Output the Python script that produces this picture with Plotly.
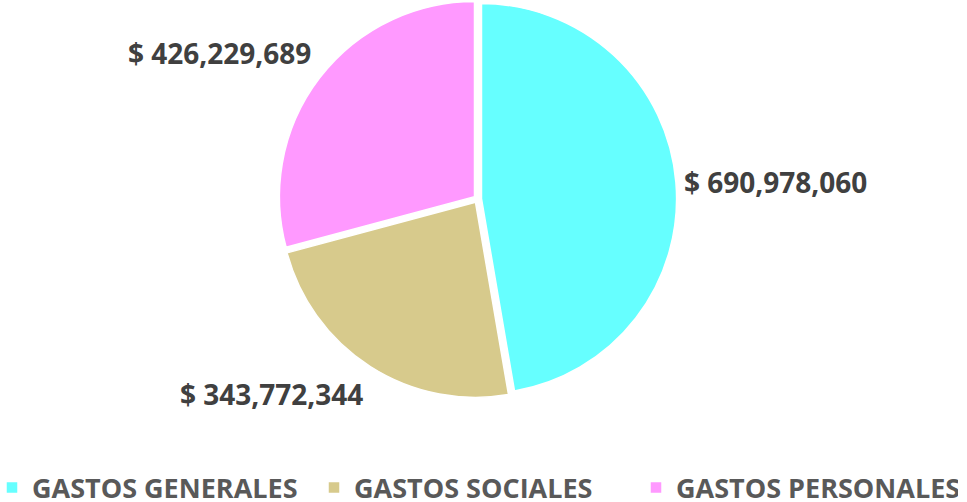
import plotly.graph_objects as go

categories = ["GASTOS GENERALES", "GASTOS SOCIALES", "GASTOS PERSONALES"]
values = [690978060, 343772344, 426229689]
colors = ["#66FFFF", "#D7CA8C", "#FF99FF"]

W, H = 967, 502
MB = 44                 # bottom margin reserved for the legend
PH = H - MB             # plot-area height

# value-label centres, in pixels from the top-left corner
label_px = [(775.5, 182), (271, 393.5), (219.5, 53)]

fig = go.Figure()
fig.add_trace(go.Pie(
    labels=categories,
    values=values,
    marker=dict(colors=colors, line=dict(color="white", width=1.5)),
    sort=False,
    direction="clockwise",
    rotation=0,
    pull=[0.02, 0.02, 0.02],
    textinfo="none",
    hoverinfo="label+value",
    domain=dict(x=[278.6 / W, 676.6 / W], y=[(PH - 398) / PH, 1.0]),
))

for v, (px, py) in zip(values, label_px):
    fig.add_annotation(
        x=px / W, y=(PH - py) / PH, xref="paper", yref="paper",
        text="$ {:,}".format(v),
        showarrow=False, xanchor="center", yanchor="middle",
        font=dict(family="Open Sans", size=28, color="#404040", weight="bold"),
    )

fig.update_layout(
    width=W, height=H,
    margin=dict(l=0, r=0, t=0, b=MB, autoexpand=False),
    paper_bgcolor="white",
    plot_bgcolor="white",
    showlegend=True,
    legend=dict(
        orientation="h",
        x=-8 / W, xanchor="left",
        y=-30 / PH, yanchor="middle",
        font=dict(family="Open Sans", size=27, color="#595959", weight="bold"),
        traceorder="normal",
        itemwidth=30,
        entrywidth=277,
        entrywidthmode="pixels",
    ),
)

fig.write_html("out.html", config={"displayModeBar": False},
               post_script="document.body.style.margin='0';")
